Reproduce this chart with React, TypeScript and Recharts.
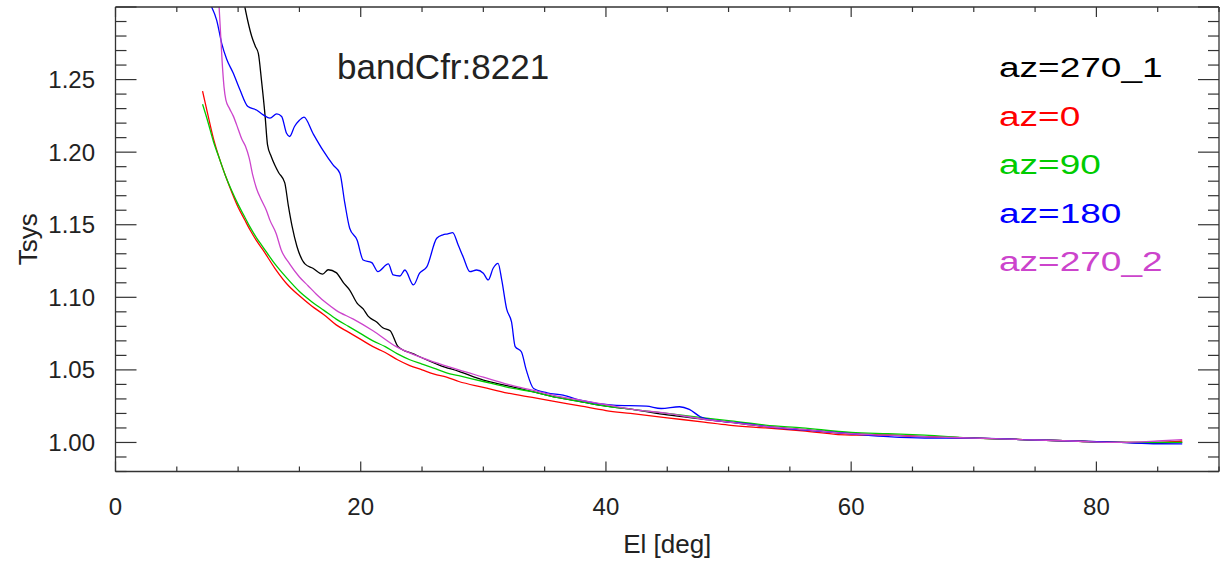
import React from "react";
import { LineChart, Line, XAxis, YAxis, Legend } from "recharts";

type Pt = [number, number];

// elevation [deg], Tsys (normalised)
const az270_1: Pt[] = [
  [10.55, 1.3], [10.8, 1.29], [11.1, 1.28], [11.4, 1.273], [11.65, 1.268], [11.9, 1.25],
  [12.2, 1.225], [12.4, 1.205], [12.7, 1.197], [13.0, 1.191], [13.3, 1.186], [13.8, 1.179],
  [14.1, 1.163], [14.4, 1.149], [14.8, 1.135], [15.45, 1.123], [16.1, 1.12], [16.9, 1.116],
  [17.35, 1.119], [18, 1.117], [18.6, 1.11], [19.1, 1.105], [19.7, 1.096], [20.2, 1.092],
  [20.6, 1.087], [21.3, 1.083], [21.8, 1.079], [22.4, 1.077], [23.05, 1.066], [24.3, 1.061],
  [26.5, 1.053], [28, 1.049], [30, 1.043], [32, 1.039], [34, 1.035], [36, 1.031],
  [38, 1.028], [40, 1.025], [42, 1.023], [45, 1.019], [48, 1.016], [50, 1.014],
  [53, 1.011], [56, 1.009], [60, 1.006], [63, 1.005], [66, 1.004], [70, 1.003],
  [74, 1.002], [78, 1.001], [82, 1.0], [85, 0.9995], [87, 1.0],
];

const az0: Pt[] = [
  [7.1, 1.242], [7.5, 1.227], [8, 1.209], [8.5, 1.195], [9, 1.183], [9.5, 1.172],
  [10, 1.162], [10.5, 1.154], [11, 1.146], [11.5, 1.139], [12, 1.133], [13, 1.12],
  [14, 1.109], [15, 1.101], [16, 1.094], [17, 1.088], [18, 1.081], [19, 1.076],
  [20, 1.071], [21, 1.066], [22, 1.062], [23, 1.057], [24, 1.053], [25, 1.05],
  [26, 1.047], [27, 1.045], [28, 1.042], [30, 1.038], [32, 1.034], [34, 1.031],
  [36, 1.028], [38, 1.025], [40, 1.022], [42, 1.02], [45, 1.017], [48, 1.014],
  [50, 1.012], [53, 1.01], [56, 1.008], [60, 1.005], [63, 1.005], [66, 1.004],
  [70, 1.003], [74, 1.002], [78, 1.001], [82, 1.0], [85, 1.0], [87, 1.001],
];

const az90: Pt[] = [
  [7.1, 1.233], [7.5, 1.222], [8, 1.207], [8.5, 1.195], [9, 1.183], [9.5, 1.173],
  [10, 1.164], [10.5, 1.156], [11, 1.148], [11.5, 1.141], [12, 1.135], [13, 1.123],
  [14, 1.113], [15, 1.104], [16, 1.097], [17, 1.091], [18, 1.085], [19, 1.08],
  [20, 1.075], [21, 1.07], [22, 1.066], [23, 1.061], [24, 1.057], [25, 1.054],
  [26, 1.051], [27, 1.048], [28, 1.046], [30, 1.042], [32, 1.038], [34, 1.035],
  [36, 1.031], [38, 1.028], [40, 1.025], [42, 1.023], [45, 1.02], [48, 1.017],
  [50, 1.015], [53, 1.012], [56, 1.01], [60, 1.007], [63, 1.006], [66, 1.005],
  [70, 1.003], [74, 1.002], [78, 1.001], [82, 1.0], [85, 1.0], [87, 1.0],
];

const az180: Pt[] = [
  [7.84, 1.3], [8.25, 1.291], [8.66, 1.275], [9.07, 1.264], [9.6, 1.2545], [10.15, 1.243],
  [10.8, 1.2314], [11.5, 1.229], [12.05, 1.2257], [12.6, 1.2234], [13.15, 1.2264], [13.55, 1.2246],
  [13.95, 1.213], [14.2, 1.2108], [14.6, 1.2177], [15.0, 1.222], [15.37, 1.2241], [16.1, 1.213],
  [16.94, 1.201], [17.76, 1.191], [18.3, 1.1855], [18.7, 1.165], [19.1, 1.1476], [19.7, 1.1395],
  [20.2, 1.1257], [20.9, 1.1239], [21.4, 1.1177], [22.25, 1.123], [22.65, 1.1154], [23.2, 1.1147],
  [23.6, 1.1188], [24.3, 1.1085], [24.8, 1.1166], [25.4, 1.1211], [26.2, 1.1407], [26.7, 1.143],
  [27.1, 1.1437], [27.5, 1.1446], [27.95, 1.136], [28.35, 1.128], [28.9, 1.1177], [29.45, 1.1188],
  [30.0, 1.1166], [30.4, 1.112], [30.8, 1.12], [31.2, 1.1234], [31.5, 1.112], [31.9, 1.092],
  [32.3, 1.083], [32.6, 1.066], [33.1, 1.0625], [33.5, 1.05], [34.1, 1.0372], [35.2, 1.0342],
  [36.5, 1.0326], [37.9, 1.0292], [40.6, 1.0257], [43.3, 1.025], [44.5, 1.0234], [46.0, 1.0246],
  [46.8, 1.0228], [47.7, 1.0177], [48.7, 1.0154], [50.9, 1.0135], [54, 1.01], [57, 1.008],
  [60, 1.006], [63, 1.004], [66, 1.003], [70, 1.003], [74, 1.002], [78, 1.001],
  [82, 1.0], [85, 0.999], [87, 0.999],
];

const az270_2: Pt[] = [
  [8.45, 1.3], [8.55, 1.285], [8.7, 1.262], [8.85, 1.245], [9.0, 1.236], [9.3, 1.23],
  [9.6, 1.225], [10, 1.216], [10.3, 1.209], [10.6, 1.204], [10.9, 1.196], [11.2, 1.184],
  [11.5, 1.175], [11.9, 1.167], [12.3, 1.16], [12.6, 1.153], [13.1, 1.144], [13.5, 1.133],
  [14.2, 1.123], [15, 1.114], [15.7, 1.108], [16.4, 1.102], [17.2, 1.096], [18, 1.091],
  [19.4, 1.085], [21, 1.077], [22.9, 1.066], [24.8, 1.059], [26.5, 1.054], [28, 1.05],
  [30, 1.045], [32, 1.04], [34, 1.036], [36, 1.032], [38, 1.029], [40, 1.026],
  [42, 1.023], [45, 1.02], [48, 1.016], [50, 1.014], [53, 1.011], [56, 1.009],
  [60, 1.006], [63, 1.005], [66, 1.004], [70, 1.003], [74, 1.002], [78, 1.001],
  [82, 1.0], [85, 1.001], [87, 1.002],
];

const seriesNames = ["az=270_1", "az=0", "az=90", "az=180", "az=270_2"];
const seriesData = [az270_1, az0, az90, az180, az270_2];
const seriesColors = ["#000000", "#ff0000", "#00cc00", "#0000ff", "#cc44cc"];

const xTicks = [0, 5, 10, 15, 20, 25, 30, 35, 40, 45, 50, 55, 60, 65, 70, 75, 80, 85, 90];
const xLabelTicks = [0, 20, 40, 60, 80];
const yTicks = Array.from({ length: 33 }, (_, i) => Math.round((0.98 + i * 0.01) * 100) / 100);
const yLabelTicks = [1.0, 1.05, 1.1, 1.15, 1.2, 1.25];

const title = "bandCfr:8221";

const AXIS = "#333";
const TEXT = "#222";
const FONT = "'Liberation Sans', Arial, Helvetica, sans-serif";

const isMult = (v: number, step: number) => {
  const r = v / step;
  return Math.abs(r - Math.round(r)) < 1e-6;
};
const hasLabel = (list: number[], v: number) => list.some((t) => Math.abs(t - v) < 1e-6);

const BottomTick = (props: any) => {
  const { x, y, payload } = props;
  const v = payload.value;
  return (
    <g>
      <line x1={x} x2={x} y1={y} y2={y - (isMult(v, 20) ? 10 : 5)} stroke={AXIS} strokeWidth={1.2} />
      {hasLabel(xLabelTicks, v) && (
        <text x={x} y={y + 43.5} textAnchor="middle" fontSize={24} fill={TEXT} fontFamily={FONT}>
          {v}
        </text>
      )}
    </g>
  );
};

const TopTick = (props: any) => {
  const { x, y, payload } = props;
  return <line x1={x} x2={x} y1={y} y2={y + (isMult(payload.value, 20) ? 10 : 5)} stroke={AXIS} strokeWidth={1.2} />;
};

const LeftTick = (props: any) => {
  const { x, y, payload } = props;
  const v = payload.value;
  return (
    <g>
      <line x1={x} x2={x + (isMult(v, 0.05) ? 21 : 11)} y1={y} y2={y} stroke={AXIS} strokeWidth={1.2} />
      {hasLabel(yLabelTicks, v) && (
        <text x={x - 20.5} y={y + 8.6} textAnchor="end" fontSize={24} fill={TEXT} fontFamily={FONT}>
          {v.toFixed(2)}
        </text>
      )}
    </g>
  );
};

const RightTick = (props: any) => {
  const { x, y, payload } = props;
  return <line x1={x} x2={x - (isMult(payload.value, 0.05) ? 21 : 11)} y1={y} y2={y} stroke={AXIS} strokeWidth={1.2} />;
};

const XLabel = ({ viewBox }: any) => (
  <text x={viewBox.x + viewBox.width / 2} y={553} textAnchor="middle" fontSize={26} fill={TEXT} fontFamily={FONT}>
    El [deg]
  </text>
);

const YLabel = ({ viewBox }: any) => (
  <text
    transform={`translate(37, ${viewBox.y + viewBox.height / 2}) rotate(-90)`}
    textAnchor="middle"
    fontSize={26}
    fill={TEXT}
    fontFamily={FONT}
  >
    Tsys
  </text>
);

// keep the plotting order in the legend (Recharts would sort by name)
const LegendList = () => (
  <div>
    {seriesNames.map((name, i) => (
      <div
        key={name}
        style={{
          color: seriesColors[i],
          fontSize: 27,
          lineHeight: "48.5px",
          fontFamily: FONT,
          whiteSpace: "nowrap",
          transform: "scaleX(1.37)",
          transformOrigin: "left center",
        }}
      >
        {name}
      </div>
    ))}
  </div>
);

export default function App() {
  return (
    <div style={{ position: "absolute", left: 0, top: 0, width: 1226, height: 565, background: "#fff" }}>
      <LineChart width={1226} height={565} margin={{ top: 6, right: 6, bottom: 0, left: 0 }}>
        <XAxis
          dataKey="el"
          type="number"
          domain={[0, 90]}
          ticks={xTicks}
          interval={0}
          allowDataOverflow
          height={93.5}
          tickSize={0}
          tickMargin={0}
          tick={BottomTick}
          axisLine={{ stroke: AXIS, strokeWidth: 1.3 }}
          label={{ content: XLabel }}
        />
        <XAxis
          xAxisId="top"
          dataKey="el"
          orientation="top"
          type="number"
          domain={[0, 90]}
          ticks={xTicks}
          interval={0}
          allowDataOverflow
          height={1}
          tickSize={0}
          tickMargin={0}
          tick={TopTick}
          axisLine={{ stroke: AXIS, strokeWidth: 1.3 }}
        />
        <YAxis
          type="number"
          domain={[0.98, 1.3]}
          ticks={yTicks}
          interval={0}
          allowDataOverflow
          width={115.5}
          tickSize={0}
          tickMargin={0}
          tick={LeftTick}
          axisLine={{ stroke: AXIS, strokeWidth: 1.3 }}
          label={{ content: YLabel }}
        />
        <YAxis
          yAxisId="right"
          orientation="right"
          type="number"
          domain={[0.98, 1.3]}
          ticks={yTicks}
          interval={0}
          allowDataOverflow
          width={1}
          tickSize={0}
          tickMargin={0}
          tick={RightTick}
          axisLine={{ stroke: AXIS, strokeWidth: 1.3 }}
        />
        <Legend
          layout="vertical"
          align="center"
          verticalAlign="middle"
          wrapperStyle={{ left: 999, top: 44, width: 220, height: 250 }}
          content={LegendList}
        />
        {/* invisible series so the mirrored top/right axes get a domain */}
        <Line
          xAxisId="top"
          yAxisId="right"
          data={az0.map(([el, t]) => ({ el, t }))}
          dataKey="t"
          stroke="none"
          dot={false}
          activeDot={false}
          legendType="none"
          isAnimationActive={false}
        />
        {seriesData.map((pts, i) => (
          <Line
            key={seriesNames[i]}
            name={seriesNames[i]}
            data={pts.map(([el, t]) => ({ el, t }))}
            dataKey="t"
            type="monotone"
            stroke={seriesColors[i]}
            strokeWidth={1.3}
            dot={false}
            activeDot={false}
            isAnimationActive={false}
          />
        ))}
      </LineChart>
      <div
        style={{
          position: "absolute",
          left: 337,
          top: 48.5,
          fontSize: 35,
          lineHeight: "35px",
          color: TEXT,
          fontFamily: FONT,
          whiteSpace: "nowrap",
        }}
      >
        {title}
      </div>
    </div>
  );
}
